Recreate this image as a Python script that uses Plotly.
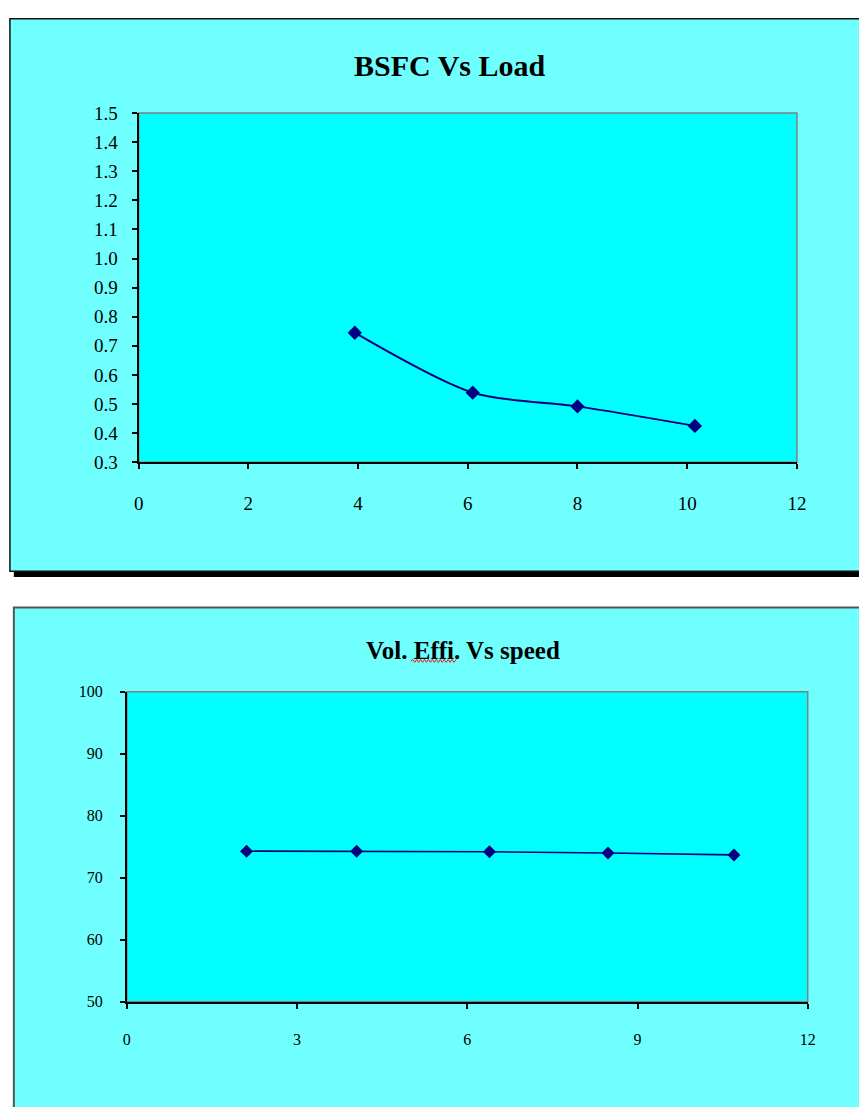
import plotly.graph_objects as go

W, H = 859, 1107

# ---- Data ----
load = [3.94, 6.09, 8.0, 10.14]
bsfc = [0.745, 0.539, 0.492, 0.425]

speed = [2.11, 4.05, 6.39, 8.48, 10.70]
vol_eff = [74.3, 74.3, 74.2, 74.0, 73.7]

x1_ticks = [0, 2, 4, 6, 8, 10, 12]
y1_ticks = [0.3, 0.4, 0.5, 0.6, 0.7, 0.8, 0.9, 1.0, 1.1, 1.2, 1.3, 1.4, 1.5]
x2_ticks = [0, 3, 6, 9, 12]
y2_ticks = [50, 60, 70, 80, 90, 100]

title1 = "BSFC Vs Load"
title2 = "Vol. Effi. Vs speed"

# ---- helpers (pixel -> paper) ----
def px(x):
    return x / W

def py(y):
    return 1 - y / H

NAVY = "#000080"
OUTER = "#70FFFF"
INNER = "#00FFFF"
FONT = "Liberation Serif"

fig = go.Figure()

fig.add_trace(go.Scatter(
    x=load, y=bsfc, mode="lines+markers", xaxis="x", yaxis="y",
    line=dict(color=NAVY, width=2, shape="spline", smoothing=0.8),
    marker=dict(symbol="diamond", size=11, color=NAVY),
    showlegend=False,
))
fig.add_trace(go.Scatter(
    x=speed, y=vol_eff, mode="lines+markers", xaxis="x2", yaxis="y2",
    line=dict(color=NAVY, width=1.6),
    marker=dict(symbol="diamond", size=10, color=NAVY),
    showlegend=False,
))

shapes = [
    # chart 1 shadow + box
    dict(type="rect", xref="paper", yref="paper", layer="below",
         x0=px(9), x1=px(890), y0=py(578), y1=py(560),
         fillcolor="black", line=dict(width=0)),
    dict(type="rect", xref="paper", yref="paper", layer="below",
         x0=px(5), x1=px(890), y0=py(572), y1=py(9),
         fillcolor=OUTER, line=dict(color="#111111", width=1.5)),
    # chart 2 box
    dict(type="rect", xref="paper", yref="paper", layer="below",
         x0=px(9), x1=px(890), y0=py(1140), y1=py(609),
         fillcolor=OUTER, line=dict(color="#555555", width=2)),
    # plot areas
    dict(type="rect", xref="x domain", yref="y domain", layer="below",
         x0=0, x1=1, y0=0, y1=1, fillcolor=INNER,
         line=dict(color="#808080", width=1.5)),
    dict(type="rect", xref="x2 domain", yref="y2 domain", layer="below",
         x0=0, x1=1, y0=0, y1=1, fillcolor=INNER,
         line=dict(color="#808080", width=1.5)),
]

# red spell-check squiggle under "Effi"
zz = "M {},{}".format(px(413), py(664))
xx = 413
up = True
while xx < 459:
    xx += 2
    zz += " L {},{}".format(px(xx), py(662 if up else 665))
    up = not up
shapes.append(dict(type="path", xref="paper", yref="paper", path=zz,
                   line=dict(color="#E02020", width=1)))

axis_common = dict(showline=True, linecolor="black", linewidth=2,
                   ticks="outside", ticklen=5, tickwidth=1.5, tickcolor="black",
                   showgrid=False, zeroline=False)

fig.update_layout(
    width=W, height=H,
    margin=dict(l=0, r=0, t=0, b=0),
    paper_bgcolor="white",
    plot_bgcolor="rgba(0,0,0,0)",
    shapes=shapes,
    xaxis=dict(domain=[px(136), px(806)], range=[0, 12], anchor="y",
               tickvals=x1_ticks, ticktext=[str(v) for v in x1_ticks],
               tickfont=dict(family=FONT, size=19, color="black"),
               ticklabelstandoff=18, **axis_common),
    yaxis=dict(domain=[py(461), py(105)], range=[0.3, 1.5], anchor="x",
               tickvals=y1_ticks, ticktext=["%.1f" % v for v in y1_ticks],
               tickfont=dict(family=FONT, size=19, color="black"),
               ticklabelstandoff=10, **axis_common),
    xaxis2=dict(domain=[px(124), px(817)], range=[0, 12], anchor="y2",
                tickvals=x2_ticks, ticktext=[str(v) for v in x2_ticks],
                tickfont=dict(family=FONT, size=16, color="black"),
                ticklabelstandoff=17, **axis_common),
    yaxis2=dict(domain=[py(1011), py(695)], range=[50, 100], anchor="x2",
                tickvals=y2_ticks, ticktext=[str(v) for v in y2_ticks],
                tickfont=dict(family=FONT, size=16, color="black"),
                ticklabelstandoff=14, **axis_common),
    annotations=[
        dict(text="<b>%s</b>" % title1, xref="paper", yref="paper",
             x=px(452), y=py(57), xanchor="center", yanchor="middle",
             showarrow=False, font=dict(family=FONT, size=30, color="black")),
        dict(text="<b>%s</b>" % title2, xref="paper", yref="paper",
             x=px(466), y=py(653), xanchor="center", yanchor="middle",
             showarrow=False, font=dict(family=FONT, size=25, color="black")),
    ],
)

fig.write_html("out.html")
